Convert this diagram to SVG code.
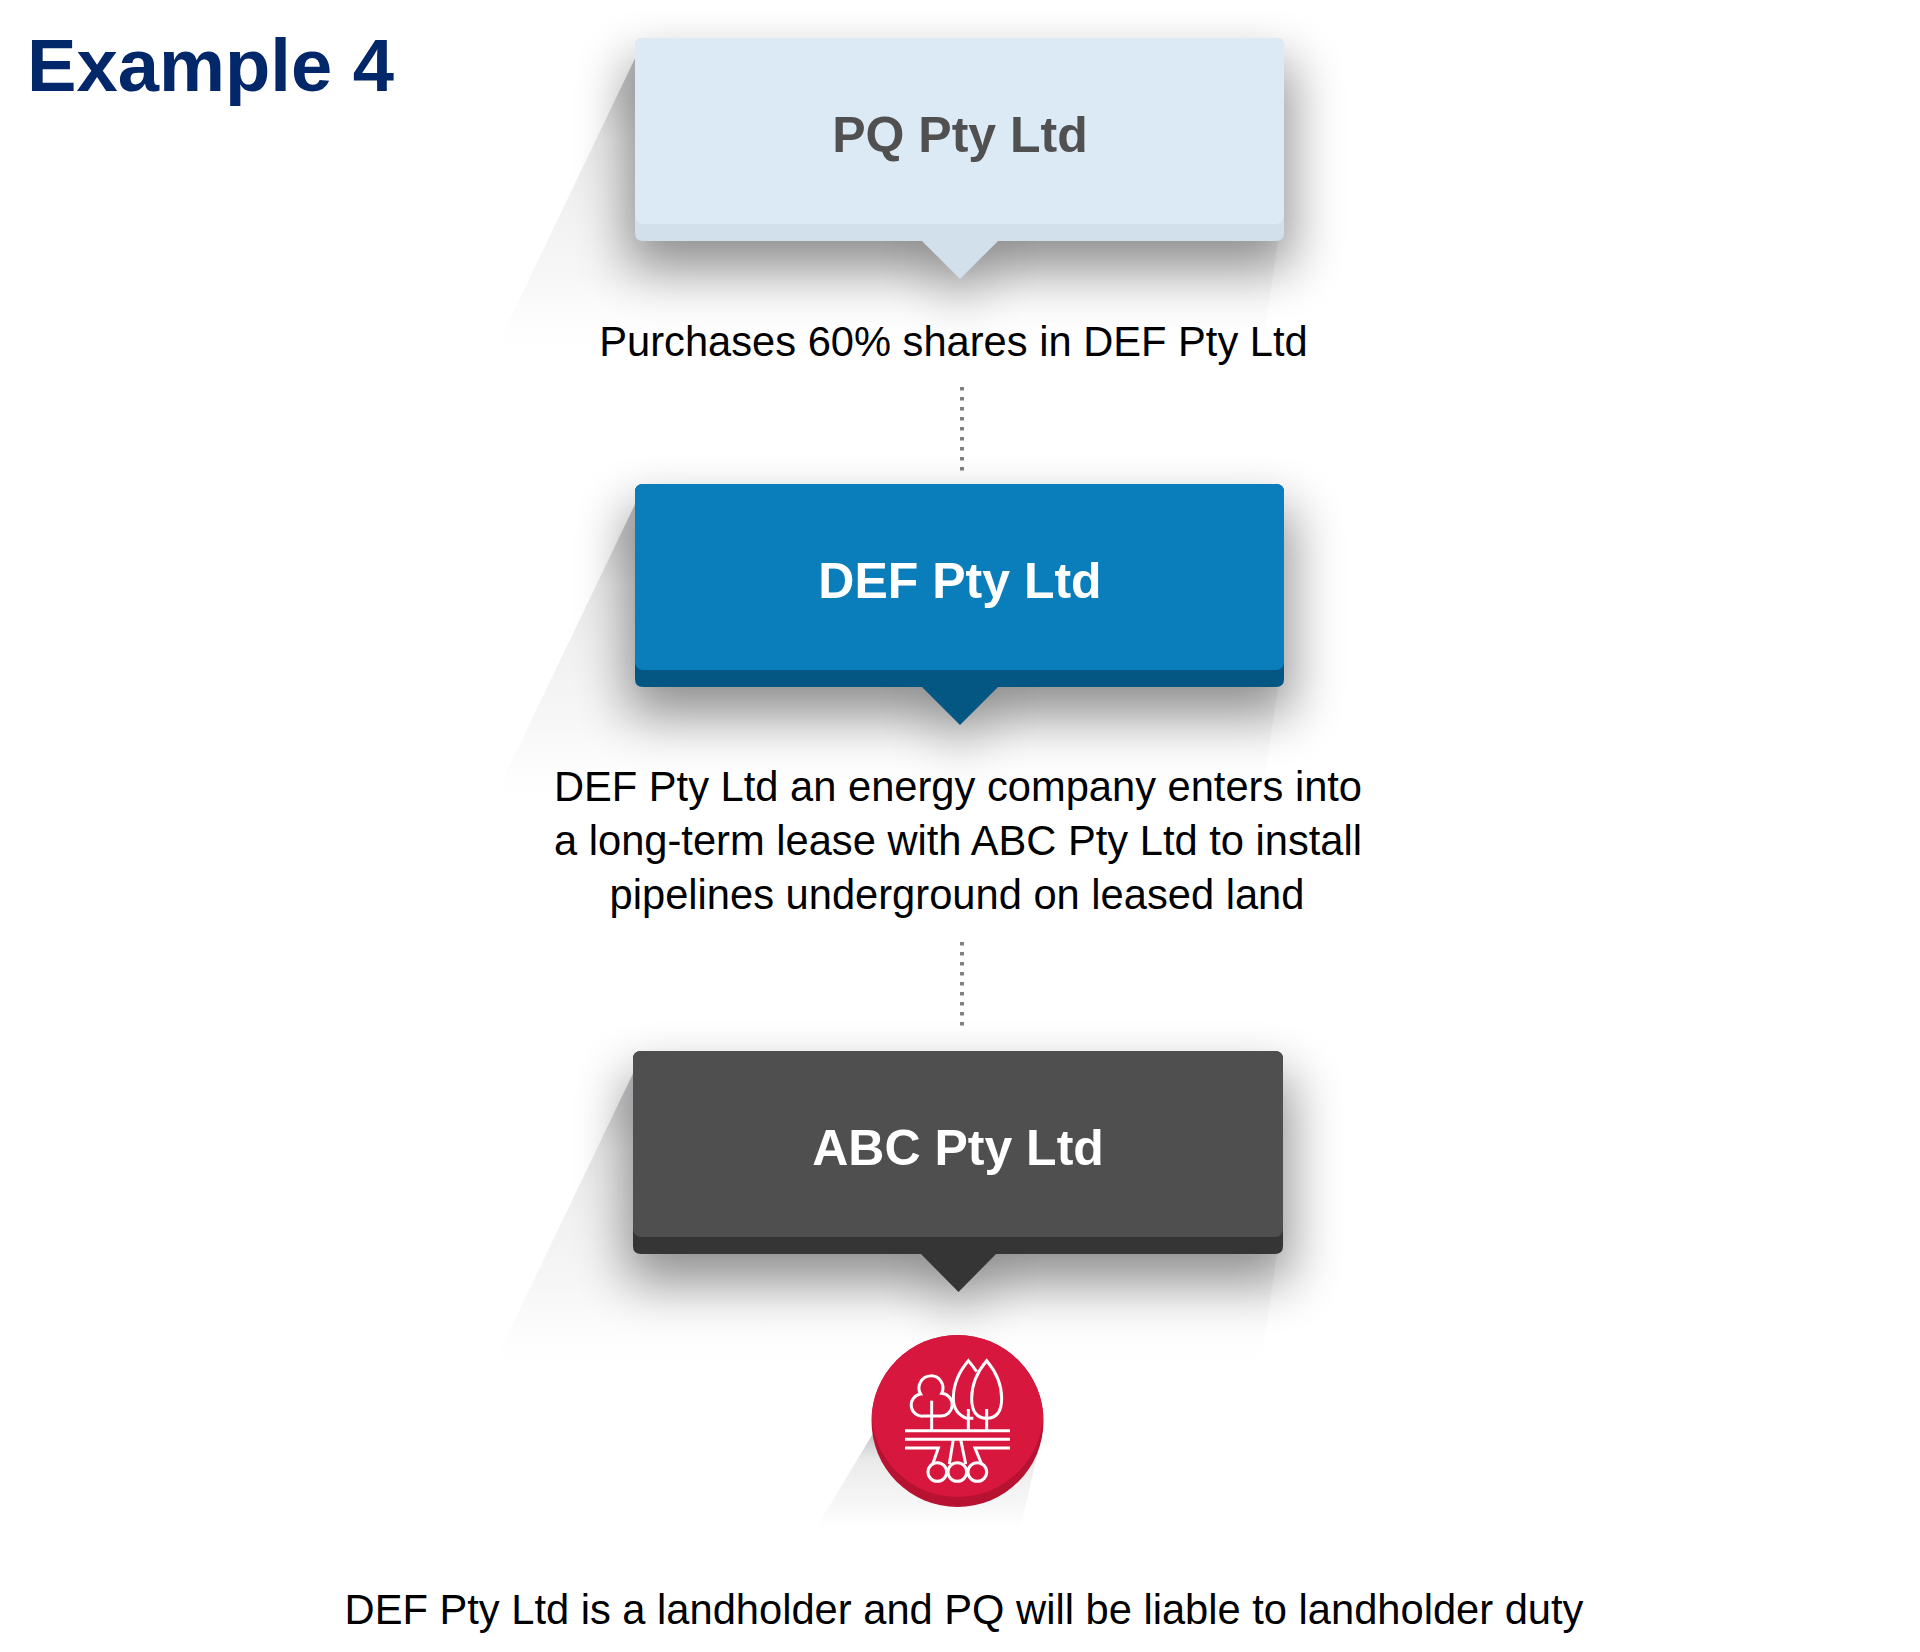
<svg xmlns="http://www.w3.org/2000/svg" width="1920" height="1652" viewBox="0 0 1920 1652">
<style>
text{font-family:"Liberation Sans",Arial,sans-serif}
.t{font-size:41.67px;fill:#000;text-anchor:middle}
.h{font-size:50px;font-weight:700;text-anchor:middle}
.d{stroke:#808080;stroke-width:4;stroke-dasharray:3.5 6.5;fill:none}
.ic{fill:none;stroke:#fff;stroke-width:9}
</style>
<defs>
<filter id="b" filterUnits="userSpaceOnUse" x="480" y="-80" width="960" height="560"><feGaussianBlur stdDeviation="26"/></filter>
<linearGradient id="ls" x1="0" y1="0" x2="0" y2="1"><stop offset="0" stop-color="#8f9198" stop-opacity=".65"/><stop offset=".3" stop-color="#c4c4c4" stop-opacity=".36"/><stop offset=".75" stop-color="#dcdcdc" stop-opacity=".24"/><stop offset="1" stop-color="#e8e8e8" stop-opacity="0"/></linearGradient>
<clipPath id="cc"><circle cx="957.500" cy="1421" r="86"/></clipPath>
<g id="card"><path d="M495 350L640 48H1278V241L1262 350Z" fill="url(#ls)"/><rect x="628" y="62" width="664" height="206" fill="#000" opacity=".42" filter="url(#b)"/><path d="M915 250H1005L960 310Z" fill="#000" opacity=".2" filter="url(#b)"/></g>
</defs>
<rect width="1920" height="1652" fill="#fff"/>
<g id="connectors"><path class="d" d="M962 387V471"/><path class="d" d="M962 942V1026"/></g>
<text x="27" y="91" font-size="74.200" font-weight="700" fill="#03286a">Example 4</text>
<g id="n1"><use href="#card"/>
<path d="M643 38H1276Q1284 38 1284 46V233Q1284 241 1276 241H998L960 279L922 241H643Q635 241 635 233V46Q635 38 643 38Z" fill="#d1e0ea"/>
<rect x="635" y="38" width="649" height="186" rx="8" fill="#dbeaf4"/>
<text class="h" x="960" y="152" fill="#505050">PQ Pty Ltd</text></g>
<text class="t" x="953.500" y="356">Purchases 60% shares in DEF Pty Ltd</text>
<g id="n2"><use href="#card" y="446"/>
<path d="M643 484H1276Q1284 484 1284 492V679Q1284 687 1276 687H998L960 725L922 687H643Q635 687 635 679V492Q635 484 643 484Z" fill="#055783"/>
<rect x="635" y="484" width="649" height="186" rx="8" fill="#0a7dbb"/>
<text class="h" x="960" y="598" fill="#fff">DEF Pty Ltd</text></g>
<g id="desc2"><text class="t" x="958" y="801">DEF Pty Ltd an energy company enters into</text><text class="t" x="958" y="855">a long-term lease with ABC Pty Ltd to install</text><text class="t" x="957" y="909">pipelines underground on leased land</text></g>
<g id="n3"><use href="#card" x="-1" y="1013"/>
<path d="M641 1051H1275Q1283 1051 1283 1059V1246Q1283 1254 1275 1254H996L958.500 1292L921 1254H641Q633 1254 633 1246V1059Q633 1051 641 1051Z" fill="#353535"/>
<rect x="633" y="1051" width="650" height="186" rx="8" fill="#4f4f4f"/>
<text class="h" x="958" y="1165" fill="#fff">ABC Pty Ltd</text></g>
<g id="icon">
<path d="M875 1430L815 1530H1020L1043 1430Z" fill="url(#ls)"/>
<circle cx="957.500" cy="1421" r="86" fill="#b81233"/>
<circle cx="957.500" cy="1411" r="86" fill="#d7173d" clip-path="url(#cc)"/>
<g transform="translate(800 1310) scale(.33333)" class="ic">
<path d="M372 318A32 32 0 0 1 362 252A36 36 0 1 1 425 250A34 34 0 0 1 420 318Z"/>
<path d="M395 272V360"/>
<path d="M530 185Q518 168 505 152Q460 205 460 265Q460 310 500 325H520"/>
<path d="M560 152Q515 205 515 265Q515 325 560 325Q605 325 605 265Q605 205 560 152Z"/>
<path d="M505 297V360M560 297V360"/>
<path d="M315 362H630M315 388H630M315 414H415L397 465M630 414H525L546 465M460 388L448 462M482 388L497 462"/>
<circle cx="412" cy="486" r="28"/><circle cx="472" cy="486" r="28"/><circle cx="532" cy="486" r="28"/>
</g></g>
<text class="t" x="964" y="1624">DEF Pty Ltd is a landholder and PQ will be liable to landholder duty</text>
</svg>
